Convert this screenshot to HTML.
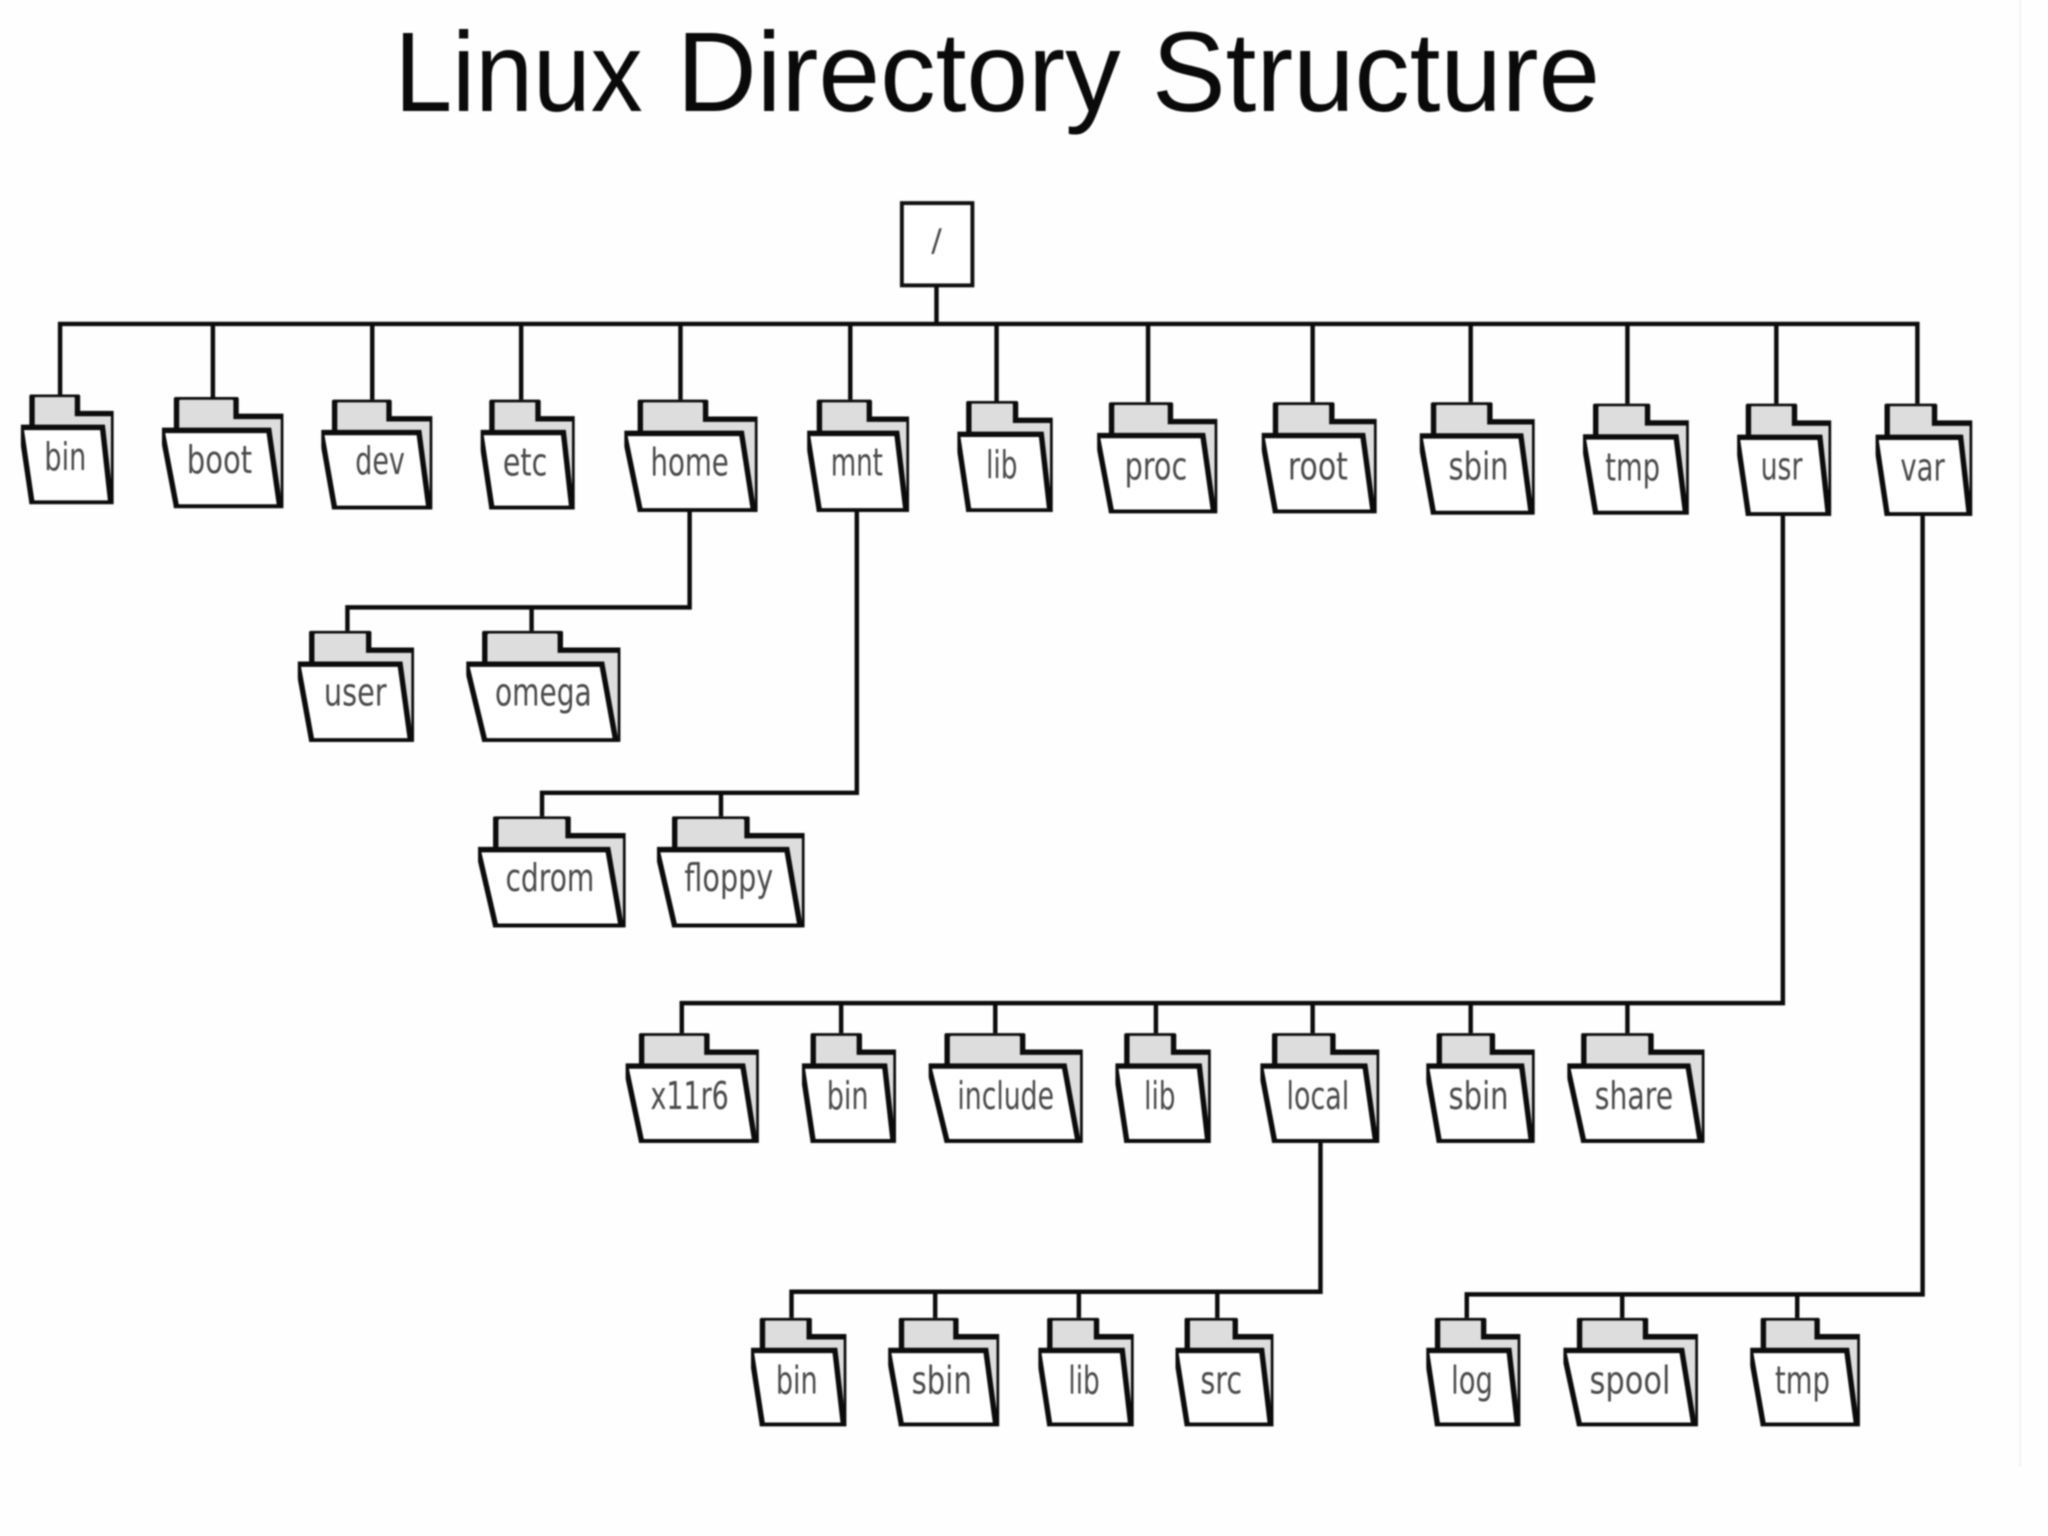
<!DOCTYPE html>
<html><head><meta charset="utf-8"><title>Linux Directory Structure</title>
<style>
html,body{margin:0;padding:0;background:#fefefe;width:2048px;height:1536px;overflow:hidden}
svg{display:block;filter:blur(.9px)}
.l{fill:none;stroke:#0c0c0c;stroke-width:3.4}
.t{font-family:"DejaVu Sans","Liberation Sans",sans-serif;font-size:29px;fill:#4a4a4a;text-anchor:middle}
.h{font-family:"Liberation Sans",sans-serif;font-size:87px;fill:#0a0a0a;text-anchor:start}
.b{fill:#ddd;stroke:#0c0c0c;stroke-width:5.4;vector-effect:non-scaling-stroke;stroke-linejoin:miter}
.f{fill:#fff;stroke:#0c0c0c;stroke-width:5.4;vector-effect:non-scaling-stroke}
</style></head><body>
<svg xmlns="http://www.w3.org/2000/svg" width="2048" height="1536" viewBox="0 0 1568 1176">
<defs>
<symbol id="f" viewBox="0 0 100 100" preserveAspectRatio="none">
<path class="b" d="M12 30V2L14 0H59L61 2V17.4H100V99H12Z"/>
<path class="f" d="M0 30H88L97 99H12Z"/>
</symbol>
</defs>
<rect x="1546" y="0" width="1.5" height="1123" fill="#f2f2f2"/>
<text class="h" x="302" y="85" textLength="190" lengthAdjust="spacingAndGlyphs">Linux</text>
<text class="h" x="518" y="85" textLength="340" lengthAdjust="spacingAndGlyphs">Directory</text>
<text class="h" x="882" y="85" textLength="343" lengthAdjust="spacingAndGlyphs">Structure</text>
<rect x="690.5" y="155.5" width="54" height="63" fill="#fff" stroke="#111" stroke-width="3"/>
<text class="t" x="717" y="192" style="font-size:24px">/</text>
<path class="l" d="M717 219V248M46 302V248H1468V309M163 248V304M285 248V306M399 248V306M521 248V306M651 248V306M763 248V307M879 248V308M1005 248V308M1126 248V308M1246 248V309M1360 248V309"/>
<path class="l" d="M528 392V465H266V483M407 465V483"/>
<path class="l" d="M656 392V607H415V625M552 607V625"/>
<path class="l" d="M1365 395V768H522V791M644 768V791M762 768V791M885 768V791M1005 768V791M1126 768V791M1246 768V791"/>
<path class="l" d="M1011 875V989H606V1009M716 989V1009M826 989V1009M932 989V1009"/>
<path class="l" d="M1472 395V991H1123V1009M1242 991V1009M1376 991V1009"/>

<use href="#f" x="16" y="302" width="71" height="84"/>
<use href="#f" x="124" y="304" width="93" height="85"/>
<use href="#f" x="246" y="306" width="85" height="84"/>
<use href="#f" x="368" y="306" width="72" height="84"/>
<use href="#f" x="478" y="306" width="102" height="86"/>
<use href="#f" x="618" y="306" width="78" height="86"/>
<use href="#f" x="733" y="307" width="73" height="85"/>
<use href="#f" x="840" y="308" width="92" height="85"/>
<use href="#f" x="966" y="308" width="88" height="85"/>
<use href="#f" x="1087" y="308" width="88" height="86"/>
<use href="#f" x="1212" y="309" width="81" height="85"/>
<use href="#f" x="1330" y="309" width="72" height="86"/>
<use href="#f" x="1436" y="309" width="74" height="86"/>
<use href="#f" x="228" y="483" width="89" height="85"/>
<use href="#f" x="357" y="483" width="118" height="85"/>
<use href="#f" x="366" y="625" width="113" height="85"/>
<use href="#f" x="503" y="625" width="113" height="85"/>
<use href="#f" x="479" y="791" width="102" height="84"/>
<use href="#f" x="614" y="791" width="72" height="84"/>
<use href="#f" x="711" y="791" width="118" height="84"/>
<use href="#f" x="854" y="791" width="73" height="84"/>
<use href="#f" x="965" y="791" width="91" height="84"/>
<use href="#f" x="1092" y="791" width="83" height="84"/>
<use href="#f" x="1200" y="791" width="105" height="84"/>
<use href="#f" x="575" y="1009" width="73" height="83"/>
<use href="#f" x="680" y="1009" width="85" height="83"/>
<use href="#f" x="795" y="1009" width="73" height="83"/>
<use href="#f" x="900" y="1009" width="75" height="83"/>
<use href="#f" x="1092" y="1009" width="72" height="83"/>
<use href="#f" x="1197" y="1009" width="103" height="83"/>
<use href="#f" x="1340" y="1009" width="84" height="83"/>

<text class="t" x="50" y="360" textLength="32" lengthAdjust="spacingAndGlyphs">bin</text>
<text class="t" x="168" y="362" textLength="50" lengthAdjust="spacingAndGlyphs">boot</text>
<text class="t" x="291" y="363" textLength="38" lengthAdjust="spacingAndGlyphs">dev</text>
<text class="t" x="402" y="364" textLength="34" lengthAdjust="spacingAndGlyphs">etc</text>
<text class="t" x="528" y="364" textLength="60" lengthAdjust="spacingAndGlyphs">home</text>
<text class="t" x="656" y="364" textLength="40" lengthAdjust="spacingAndGlyphs">mnt</text>
<text class="t" x="767" y="366" textLength="24" lengthAdjust="spacingAndGlyphs">lib</text>
<text class="t" x="885" y="367" textLength="48" lengthAdjust="spacingAndGlyphs">proc</text>
<text class="t" x="1009" y="367" textLength="46" lengthAdjust="spacingAndGlyphs">root</text>
<text class="t" x="1132" y="367" textLength="46" lengthAdjust="spacingAndGlyphs">sbin</text>
<text class="t" x="1250" y="368" textLength="42" lengthAdjust="spacingAndGlyphs">tmp</text>
<text class="t" x="1364" y="367" textLength="32" lengthAdjust="spacingAndGlyphs">usr</text>
<text class="t" x="1472" y="368" textLength="34" lengthAdjust="spacingAndGlyphs">var</text>
<text class="t" x="272" y="540" textLength="48" lengthAdjust="spacingAndGlyphs">user</text>
<text class="t" x="416" y="540" textLength="74" lengthAdjust="spacingAndGlyphs">omega</text>
<text class="t" x="421" y="682" textLength="68" lengthAdjust="spacingAndGlyphs">cdrom</text>
<text class="t" x="558" y="682" textLength="68" lengthAdjust="spacingAndGlyphs">floppy</text>
<text class="t" x="528" y="849" textLength="60" lengthAdjust="spacingAndGlyphs">x11r6</text>
<text class="t" x="649" y="849" textLength="32" lengthAdjust="spacingAndGlyphs">bin</text>
<text class="t" x="770" y="849" textLength="74" lengthAdjust="spacingAndGlyphs">include</text>
<text class="t" x="888" y="849" textLength="24" lengthAdjust="spacingAndGlyphs">lib</text>
<text class="t" x="1009" y="849" textLength="48" lengthAdjust="spacingAndGlyphs">local</text>
<text class="t" x="1132" y="849" textLength="46" lengthAdjust="spacingAndGlyphs">sbin</text>
<text class="t" x="1251" y="849" textLength="60" lengthAdjust="spacingAndGlyphs">share</text>
<text class="t" x="610" y="1067" textLength="32" lengthAdjust="spacingAndGlyphs">bin</text>
<text class="t" x="721" y="1067" textLength="46" lengthAdjust="spacingAndGlyphs">sbin</text>
<text class="t" x="830" y="1067" textLength="24" lengthAdjust="spacingAndGlyphs">lib</text>
<text class="t" x="935" y="1067" textLength="32" lengthAdjust="spacingAndGlyphs">src</text>
<text class="t" x="1127" y="1067" textLength="32" lengthAdjust="spacingAndGlyphs">log</text>
<text class="t" x="1248" y="1067" textLength="62" lengthAdjust="spacingAndGlyphs">spool</text>
<text class="t" x="1380" y="1067" textLength="42" lengthAdjust="spacingAndGlyphs">tmp</text>
</svg>
</body></html>
